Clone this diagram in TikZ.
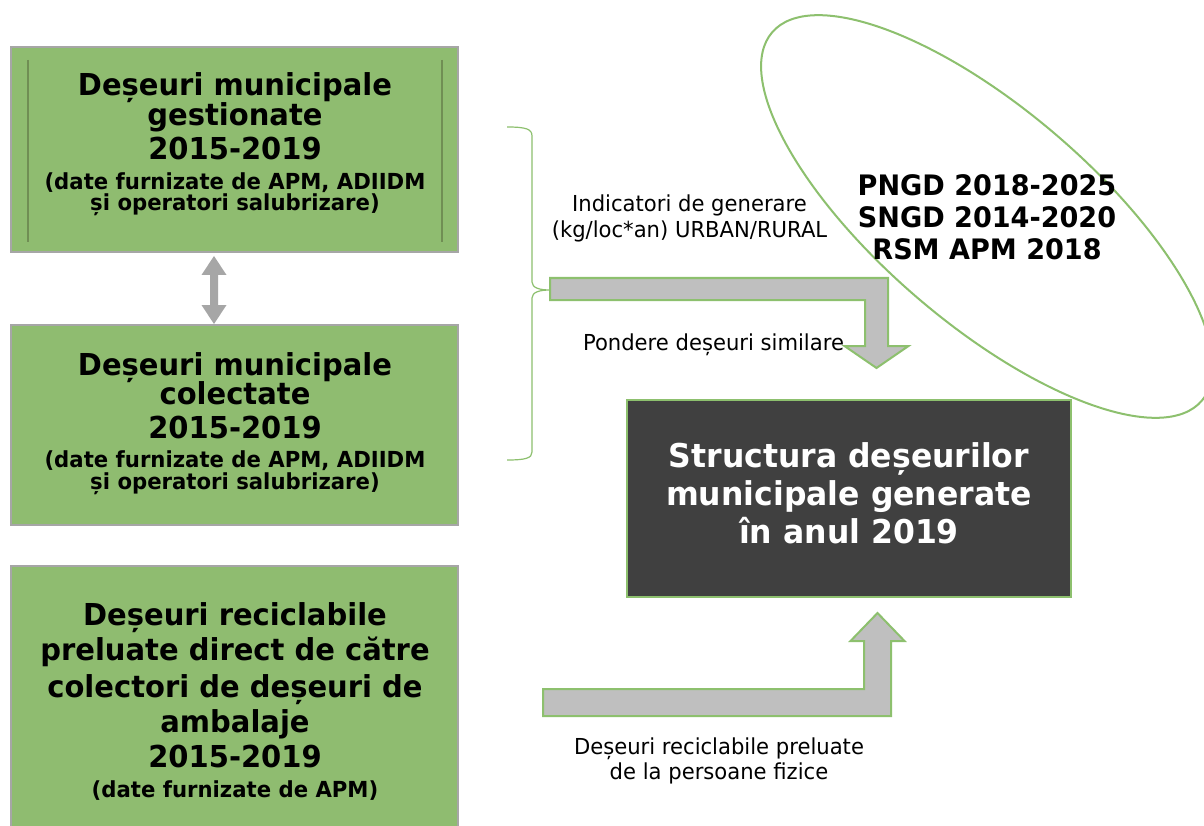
\documentclass[tikz,border=0pt]{standalone}
\usepackage{fontspec}
\setmainfont{DejaVu Sans}[FakeStretch=0.96]
\definecolor{boxgreen}{RGB}{143,188,112}
\definecolor{linegreen}{RGB}{141,192,110}
\definecolor{darkline}{RGB}{112,142,84}
\definecolor{boxgray}{RGB}{166,166,166}
\definecolor{arrowgray}{RGB}{191,191,191}
\definecolor{darkbox}{RGB}{64,64,64}
\tikzset{
  greenbox/.style={fill=boxgreen,draw=boxgray,line width=1.5pt},
  bigtxt/.style={anchor=base,inner sep=0pt,font=\fontsize{30.2}{34}\selectfont\bfseries},
  smalltxt/.style={anchor=base,inner sep=0pt,font=\fontsize{22.1}{25}\selectfont\bfseries},
  regtxt/.style={anchor=base,inner sep=0pt,font=\fontsize{22}{27}\selectfont},
  darktxt/.style={anchor=base,inner sep=0pt,text=white,font=\fontsize{32.8}{39}\selectfont\bfseries},
  elltxt/.style={anchor=base,inner sep=0pt,font=\fontsize{28.2}{33}\selectfont\bfseries},
  blockarrow/.style={fill=arrowgray,draw=linegreen,line width=2pt,line join=miter},
}
\begin{document}
\begin{tikzpicture}[x=1pt,y=-1pt]
\clip (0,0) rectangle (1204,826);
\fill[white] (0,0) rectangle (1204,826);
% boxes
\draw[greenbox] (11,47) rectangle (458,252);
\draw[darkline,line width=1.5pt] (28,60) -- (28,242);
\draw[darkline,line width=1.5pt] (442,60) -- (442,242);
\draw[greenbox] (11,325) rectangle (458,525);
\draw[greenbox] (11,566) rectangle (458,840);
% box 1 text
\node[bigtxt] (b1a) at (235,96) {Deșeuri municipale};
\node[bigtxt] (b1b) at (235,126) {gestionate};
\node[bigtxt] (b1c) at (235,160) {2015-2019};
\node[smalltxt] (b1d) at (235,190) {(date furnizate de APM, ADIIDM};
\node[smalltxt] (b1e) at (235,211) {și operatori salubrizare)};
% box 2 text
\node[bigtxt] (b2a) at (235,375) {Deșeuri municipale};
\node[bigtxt] (b2b) at (235,404) {colectate};
\node[bigtxt] (b2c) at (235,438) {2015-2019};
\node[smalltxt] (b2d) at (235,467) {(date furnizate de APM, ADIIDM};
\node[smalltxt] (b2e) at (235,489) {și operatori salubrizare)};
% box 3 text
\node[bigtxt] (b3a) at (235,625) {Deșeuri reciclabile};
\node[bigtxt] (b3b) at (235,660) {preluate direct de către};
\node[bigtxt] (b3c) at (235,697) {colectori de deșeuri de};
\node[bigtxt] (b3d) at (235,732) {ambalaje};
\node[bigtxt] (b3e) at (235,767) {2015-2019};
\node[smalltxt] (b3f) at (235,797) {(date furnizate de APM)};
% double arrow
\fill[boxgray] (214,256) -- (226.5,275) -- (218,275) -- (218,305) -- (226.5,305)
  -- (214,324) -- (201.5,305) -- (210,305) -- (210,275) -- (201.5,275) -- cycle;
% brace
\draw[linegreen,line width=1.2pt] (507,127) .. controls (526,127) and (532,129) .. (532,136)
  -- (532,282) .. controls (532,288) and (540,290) .. (550,290)
  .. controls (540,290) and (532,292) .. (532,298)
  -- (532,452) .. controls (532,458) and (526,460) .. (507,460);
% dark box
\draw[fill=darkbox,draw=linegreen,line width=2pt] (627,400) rectangle (1071,597);
\node[darktxt] (d1) at (849,467) {Structura deșeurilor};
\node[darktxt] (d2) at (849,505) {municipale generate};
\node[darktxt] (d3) at (849,543) {în anul 2019};
% block arrows
\draw[blockarrow] (550,278) -- (888,278) -- (888,346) -- (908.5,346) -- (876.5,368)
  -- (844.5,346) -- (865,346) -- (865,300) -- (550,300) -- cycle;
\draw[blockarrow] (543,689) -- (864,689) -- (864,641) -- (850.5,641) -- (877.5,613)
  -- (904.5,641) -- (891,641) -- (891,716) -- (543,716) -- cycle;
% labels
\node[regtxt] (l1) at (689.5,212) {Indicatori de generare};
\node[regtxt] (l2) at (689.5,238) {(kg/loc*an) URBAN/RURAL};
\node[regtxt] (l3) at (713.5,350) {Pondere deșeuri similare};
\node[regtxt] (l4) at (719,754) {Deșeuri reciclabile preluate};
\node[regtxt] (l5) at (719,779) {de la persoane fizice};
% ellipse
\draw[linegreen,line width=2pt,rotate around={-40.6:(987,216.5)}] (987,216.5) ellipse [x radius=283, y radius=107];
\node[elltxt] (e1) at (987,196) {PNGD 2018-2025};
\node[elltxt] (e2) at (987,228) {SNGD 2014-2020};
\node[elltxt] (e3) at (987,260) {RSM APM 2018};
\end{tikzpicture}
\end{document}
